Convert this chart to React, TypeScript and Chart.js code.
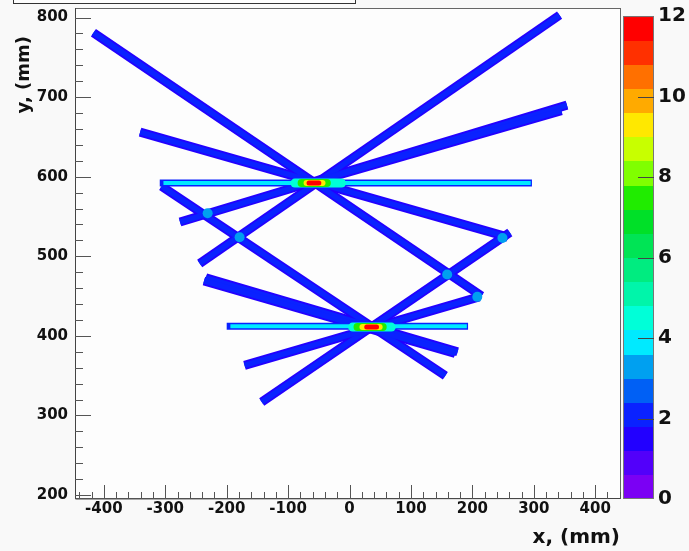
import React, { useEffect, useRef } from 'react';
import { Chart, registerables } from 'chart.js';

Chart.register(...registerables);

// ---- axes ----
const xMin = -447;
const xMax = 442;
const yMin = 195;
const yMax = 812;
const xTicks = [-400, -300, -200, -100, 0, 100, 200, 300, 400];
const yTicks = [200, 300, 400, 500, 600, 700, 800];
const zTicks = [0, 2, 4, 6, 8, 10, 12];
const zMax = 12;
const minorStep = 20;

// ---- colour palette (20 contours, bottom -> top) ----
const zBandColors = [
  '#7b00f4', '#5200fa', '#2200ff', '#0a22ff', '#0060f5',
  '#00a0f0', '#00eaff', '#00ffd8', '#00f5aa', '#00ec80',
  '#00e455', '#00e028', '#20ec00', '#80ff00', '#c8ff00',
  '#ffe800', '#ffaa00', '#ff7000', '#ff3000', '#ff0000',
];

// ---- sloped tracks (mm) ----
const trackX1 = [-417, -341, 342, 354, 345, -306, -234, -237, -143, -171];
const trackY1 = [781, 656, 803, 690, 683, 588, 473, 469, 317, 363];
const trackX2 = [215, 258, -244, -276, -50, 156, 176, 172, 261, 211];
const trackY2 = [450, 524, 491, 543, 595, 350, 380, 378, 530, 449];
const trackCount = 2.0;
const trackEdgeCount = 1.3;

// ---- horizontal tracks ----
const flatY = [592, 412];
const flatXFrom = [-309, -200];
const flatXTo = [297, 193];
const flatCount = 3.9;

// ---- crossings ----
const crossX = [-231, -179, 159, 249, 208];
const crossY = [554, 524, 477, 523, 449];
const crossCount = 3.3;

// ---- hot spots (contour extents along x, mm) ----
const hotY = [592, 411];
const hotCounts = [4.5, 7.2, 9.5, 11.8];
const hotUpperFrom = [-89, -78, -70, -66];
const hotUpperTo = [-13, -37, -44, -50];
const hotLowerFrom = [5, 13, 21, 28];
const hotLowerTo = [68, 54, 49, 44];

const FONT = 'DejaVu Sans';

function colorFor(v: number) {
  const n = zBandColors.length;
  const i = Math.max(0, Math.min(n - 1, Math.floor((v / zMax) * n)));
  return zBandColors[i];
}

const noPad = (s: any) => {
  s.paddingTop = 0;
  s.paddingBottom = 0;
  s.paddingLeft = 0;
  s.paddingRight = 0;
};

export default function App() {
  const ref = useRef<HTMLCanvasElement | null>(null);

  useEffect(() => {
    if (!ref.current) return;
    const datasets: any[] = [];
    let ord = 0;
    const push = (ds: any) => datasets.push({ ...ds, order: -ord++ });
    const seg = (x1: number, y1: number, x2: number, y2: number, w: number, c: string, cap = 'butt') =>
      push({
        type: 'line',
        data: [{ x: x1, y: y1 }, { x: x2, y: y2 }],
        borderColor: c,
        borderWidth: w,
        borderCapStyle: cap,
        pointRadius: 0,
        fill: false,
        tension: 0,
      });

    for (let i = 0; i < trackX1.length; i++)
      seg(trackX1[i], trackY1[i], trackX2[i], trackY2[i], 9, colorFor(trackEdgeCount));
    for (let i = 0; i < trackX1.length; i++)
      seg(trackX1[i], trackY1[i], trackX2[i], trackY2[i], 5.5, colorFor(trackCount));
    for (let i = 0; i < flatY.length; i++)
      seg(flatXFrom[i], flatY[i], flatXTo[i], flatY[i], 7, colorFor(trackCount));
    for (let i = 0; i < flatY.length; i++)
      seg(flatXFrom[i] + 6, flatY[i], flatXTo[i] - 2, flatY[i], 4, colorFor(flatCount));
    push({
      type: 'scatter',
      data: crossX.map((x, i) => ({ x, y: crossY[i] })),
      pointRadius: 5,
      pointBorderWidth: 0,
      pointBackgroundColor: colorFor(crossCount),
    });
    const hotWidths = [9, 8, 6, 5];
    for (let k = 0; k < hotCounts.length; k++) {
      seg(hotUpperFrom[k], hotY[0], hotUpperTo[k], hotY[0], hotWidths[k], colorFor(hotCounts[k]), 'round');
      seg(hotLowerFrom[k], hotY[1], hotLowerTo[k], hotY[1], hotWidths[k], colorFor(hotCounts[k]), 'round');
    }

    const font = (size: number) => ({ family: FONT, weight: 'bold' as const, size });
    const noGrid = { display: false, drawTicks: false, tickLength: 0 };

    const decor = {
      id: 'decor',
      beforeDraw(chart: any) {
        const { ctx, chartArea: a } = chart;
        ctx.save();
        ctx.fillStyle = '#f9f9f9';
        ctx.fillRect(0, 0, chart.width, chart.height);
        ctx.fillStyle = '#fdfdfd';
        ctx.fillRect(a.left, a.top, a.right - a.left, a.bottom - a.top);
        // cut-off title box
        ctx.fillStyle = '#fdfdfd';
        ctx.strokeStyle = '#333';
        ctx.lineWidth = 1;
        ctx.fillRect(13, -5, 342, 8.5);
        ctx.strokeRect(13.5, -5, 342, 8.5);
        ctx.restore();
      },
      afterDraw(chart: any) {
        const { ctx, chartArea: a, scales } = chart;
        const xs = scales.x, ys = scales.y, zs = scales.z;
        ctx.save();
        // frame
        ctx.strokeStyle = '#666';
        ctx.lineWidth = 1;
        ctx.strokeRect(a.left + 0.5, a.top + 0.5, a.right - a.left - 1, a.bottom - a.top - 1);
        ctx.strokeStyle = '#444';
        ctx.beginPath();
        ctx.moveTo(a.left + 0.5, a.top);
        ctx.lineTo(a.left + 0.5, a.bottom);
        ctx.lineTo(a.right, a.bottom - 0.5);
        ctx.stroke();
        // ticks inside
        ctx.strokeStyle = '#555';
        ctx.beginPath();
        for (let v = Math.ceil(xMin / minorStep) * minorStep; v <= xMax; v += minorStep) {
          const major = xTicks.includes(v);
          const px = Math.round(xs.getPixelForValue(v)) + 0.5;
          ctx.moveTo(px, a.bottom);
          ctx.lineTo(px, a.bottom - (major ? 14 : 7));
        }
        for (let v = Math.ceil(yMin / minorStep) * minorStep; v <= yMax; v += minorStep) {
          const major = yTicks.includes(v);
          const py = Math.round(ys.getPixelForValue(v)) + 0.5;
          ctx.moveTo(a.left, py);
          ctx.lineTo(a.left + (major ? 16 : 8), py);
        }
        ctx.stroke();
        // colour bar
        const bx = a.right + 2, bw = 31;
        const n = zBandColors.length;
        for (let i = 0; i < n; i++) {
          const y0 = zs.getPixelForValue((i * zMax) / n);
          const y1 = zs.getPixelForValue(((i + 1) * zMax) / n);
          ctx.fillStyle = zBandColors[i];
          ctx.fillRect(bx, Math.floor(y1), bw, Math.ceil(y0) - Math.floor(y1));
        }
        const top = zs.getPixelForValue(zMax), bot = zs.getPixelForValue(0);
        ctx.strokeStyle = '#777';
        ctx.strokeRect(bx + 0.5, top + 0.5, bw - 1, bot - top - 1);
        ctx.strokeStyle = '#444';
        ctx.beginPath();
        for (const v of zTicks) {
          if (v === 0 || v === zMax) continue;
          const py = Math.round(zs.getPixelForValue(v)) + 0.5;
          ctx.moveTo(bx + bw - 16, py);
          ctx.lineTo(bx + bw, py);
        }
        ctx.stroke();
        // axis titles
        ctx.fillStyle = '#111';
        ctx.font = `bold 20px "${FONT}"`;
        ctx.textAlign = 'right';
        ctx.textBaseline = 'middle';
        ctx.fillText('x, (mm)', a.right - 1, 538);
        ctx.translate(24, 36);
        ctx.rotate(-Math.PI / 2);
        ctx.font = `bold 18px "${FONT}"`;
        ctx.fillText('y, (mm)', 0, 0);
        ctx.restore();
      },
    };

    const chart = new Chart(ref.current, {
      type: 'line',
      data: { datasets },
      options: {
        animation: false,
        responsive: false,
        events: [],
        layout: { padding: { top: 8, left: 0, right: 0, bottom: 0 } },
        plugins: { legend: { display: false }, tooltip: { enabled: false } },
        scales: {
          x: {
            type: 'linear',
            position: 'bottom',
            min: xMin,
            max: xMax,
            grid: noGrid,
            border: { display: false },
            afterBuildTicks: (s: any) => { s.ticks = xTicks.map((value) => ({ value })); },
            afterFit: (s: any) => { s.height = 52; noPad(s); },
            ticks: { font: font(15), color: '#111', padding: 1, maxRotation: 0, autoSkip: false },
          },
          y: {
            type: 'linear',
            position: 'left',
            min: yMin,
            max: yMax,
            grid: noGrid,
            border: { display: false },
            afterBuildTicks: (s: any) => { s.ticks = yTicks.map((value) => ({ value })); },
            afterFit: (s: any) => { s.width = 75; noPad(s); },
            ticks: { font: font(15), color: '#111', padding: 7, autoSkip: false },
          },
          z: {
            type: 'linear',
            position: 'right',
            min: 0,
            max: 12.2,
            grid: noGrid,
            border: { display: false },
            afterBuildTicks: (s: any) => { s.ticks = zTicks.map((value) => ({ value })); },
            afterFit: (s: any) => { s.width = 68; noPad(s); },
            ticks: { font: font(20), color: '#111', padding: 37, autoSkip: false },
          },
        },
      } as any,
      plugins: [decor],
    });
    return () => chart.destroy();
  }, []);

  return (
    <div style={{ position: 'fixed', left: 0, top: 0, width: 689, height: 551 }}>
      <canvas ref={ref} width={689} height={551} style={{ display: 'block', width: 689, height: 551 }} />
    </div>
  );
}
